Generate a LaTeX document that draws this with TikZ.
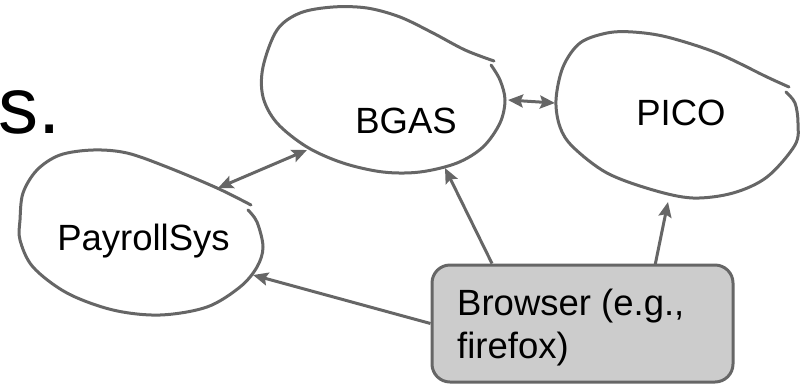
\documentclass[tikz,border=0pt]{standalone}
\usepackage{fontspec}
\setmainfont{Liberation Sans}
\usetikzlibrary{arrows.meta,calc}
\definecolor{edgegray}{HTML}{666666}
\definecolor{boxfill}{HTML}{CCCCCC}
\begin{document}
\begin{tikzpicture}[x=1pt,y=-1pt,
  blob/.style={draw=edgegray,line width=3pt,line join=round,line cap=round},
  conn/.style={draw=edgegray,line width=3pt,-{Stealth[length=15pt,width=13pt,inset=2.5pt]}},
  dconn/.style={draw=edgegray,line width=3pt,{Stealth[length=15pt,width=13pt,inset=2.5pt]}-{Stealth[length=15pt,width=13pt,inset=2.5pt]}},
  lbl/.style={font=\fontsize{36.5}{44}\selectfont,inner sep=0pt,anchor=base},
  browserbox/.style={draw=edgegray,fill=boxfill,line width=3pt,rounded corners=18pt,minimum width=301pt,minimum height=117pt,inner sep=0pt}
]
\useasboundingbox (0,0) rectangle (800,384);

% title fragment
\node[font=\fontsize{80}{90}\selectfont,inner sep=0pt,anchor=base west] (title) at (-1.5,133) {s.};

% BGAS blob
\draw[blob] plot[smooth,tension=0.55] coordinates {(491,65) (500,80) (505,100) (500,123) (483,147) (457,163) (420,172) (383,172) (343,163) (307,147) (277,123) (263,97) (263,67) (277,30) (300,13) (333,7) (367,8) (400,17) (433,33) (465,50) (494,61)};
% PICO blob
\draw[blob] plot[smooth,tension=0.55] coordinates {(786,92) (795,103) (798,123) (795,145) (767,177) (733,193) (693,198) (653,190) (607,173) (573,147) (560,127) (556,100) (563,67) (580,43) (607,33) (633,32) (667,37) (717,53) (767,77) (789,87)};
% PayrollSys blob
\draw[blob] plot[smooth,tension=0.55] coordinates {(248,210) (257,222) (263,247) (257,267) (240,287) (207,307) (160,315) (113,310) (67,293) (33,267) (20,240) (20,220) (23,193) (37,170) (60,155) (93,150) (127,153) (167,167) (217,188) (251,205)};

\node[lbl] (bgas) at (406,133) {BGAS};
\node[lbl] (pico) at (681,125) {PICO};
\node[lbl] (payroll) at (143.5,250) {PayrollSys};

\node[browserbox] (browser) at (582.5,323.5) {};
\node[lbl,anchor=base west] (bline1) at (457,315) {Browser (e.g.,};
\node[lbl,anchor=base west] (bline2) at (457,358) {firefox)};

% connector end points on blob outlines
\coordinate (payTop) at (218,188);
\coordinate (bgasLow) at (307,150);
\coordinate (bgasRight) at (508,100);
\coordinate (picoLeft) at (555,103);
\coordinate (payRight) at (253,275);
\coordinate (bgasBottom) at (445,168);
\coordinate (picoBottom) at (668,202);

\draw[dconn] (payTop) -- (bgasLow);
\draw[dconn] (bgasRight) -- (picoLeft);
\draw[conn] (browser.west) -- (payRight);
\draw[conn] ([xshift=-90.5pt]browser.north) -- (bgasBottom);
\draw[conn] ([xshift=72.5pt,yshift=-2pt]browser.north) -- (picoBottom);
\end{tikzpicture}
\end{document}
